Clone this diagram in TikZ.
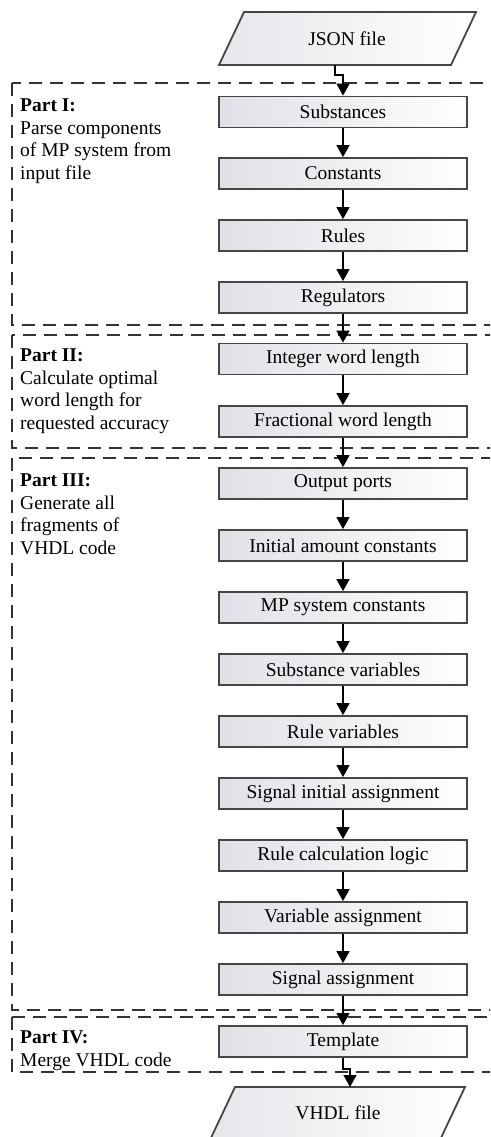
\documentclass[tikz,border=0pt]{standalone}
\usepackage{fontspec}
\setmainfont{Liberation Serif}
\usetikzlibrary{arrows.meta}
\newcommand\figfs{\fontsize{19.5}{22.7}\selectfont}
\definecolor{boxgray}{RGB}{224,224,230}
\definecolor{edgegray}{RGB}{70,70,70}
\begin{document}
\begin{tikzpicture}[x=1pt,y=-1pt,
  proc/.style={draw=edgegray, line width=1.8pt, left color=boxgray, right color=white,
    minimum width=248pt, minimum height=31pt, inner sep=0pt, font=\figfs},
  iofile/.style={draw=edgegray, line width=1.8pt, left color=boxgray!80, right color=white},
  arr/.style={draw=black, line width=1.4pt, -{Triangle[width=13pt,length=12pt]}},
  partbox/.style={draw=black!80, line width=2pt, dash pattern=on 13pt off 8pt},
  lbl/.style={anchor=north west, inner sep=0pt, align=left, font=\figfs},
  txt/.style={inner sep=0pt, font=\figfs}]
\useasboundingbox (0,0) rectangle (490,1137);
\clip (0,0) rectangle (490,1137);
\fill[white] (0,0) rectangle (490,1137);

% part boxes
\draw[partbox] (12,83) rectangle (520,325);
\draw[partbox] (12,335) rectangle (520,448);
\draw[partbox] (12,458) rectangle (520,1010);
\draw[partbox] (12,1017) rectangle (520,1072);

% labels
\node[lbl] (p1) at (20,98.5) {\textbf{Part I:}\\Parse components\\of MP system from\\input file};
\node[lbl] (p2) at (20,348.5) {\textbf{Part II:}\\Calculate optimal\\word length for\\requested accuracy};
\node[lbl] (p3) at (20,473.5) {\textbf{Part III:}\\Generate all\\fragments of\\VHDL code};
\node[lbl] (p4) at (20,1030.5) {\textbf{Part IV:}\\Merge VHDL code};

% input / output files
\path[iofile] (244,12) -- (476,12) -- (451,65) -- (219,65) -- cycle;
\node[txt] (json) at (347,38.5) {JSON file};
\coordinate (jsonb) at (335,65);
\path[iofile] (235,1087) -- (465,1087) -- (440,1140) -- (210,1140) -- cycle;
\node[txt] (vhdl) at (338,1113) {VHDL file};
\coordinate (vhdlt) at (350,1087);

% process boxes
\node[proc] (sub) at (343,112) {Substances};
\node[proc] (con) at (343,173.5) {Constants};
\node[proc] (rul) at (343,235.5) {Rules};
\node[proc] (reg) at (343,297.5) {Regulators};
\node[proc] (int) at (343,359) {Integer word length};
\node[proc] (fra) at (343,421.5) {Fractional word length};
\node[proc] (out) at (343,483.5) {Output ports};
\node[proc] (ini) at (343,545.5) {Initial amount constants};
\node[proc] (mps) at (343,607.5) {MP system constants};
\node[proc] (subv) at (343,669.5) {Substance variables};
\node[proc] (rulv) at (343,731.5) {Rule variables};
\node[proc] (sia) at (343,793.5) {Signal initial assignment};
\node[proc] (rcl) at (343,855.5) {Rule calculation logic};
\node[proc] (vas) at (343,917.5) {Variable assignment};
\node[proc] (sas) at (343,979.5) {Signal assignment};
\node[proc] (tpl) at (343,1041.5) {Template};

% connectors
\draw[arr] (jsonb) -- ++(0,10) -| (sub);
\foreach \a/\b in {sub/con,con/rul,rul/reg,reg/int,int/fra,fra/out,out/ini,ini/mps,mps/subv,subv/rulv,rulv/sia,sia/rcl,rcl/vas,vas/sas,sas/tpl}
  \draw[arr] (\a) -- (\b);
\draw[arr] (tpl.south) -- ++(0,11) -| (vhdlt);
\end{tikzpicture}
\end{document}
